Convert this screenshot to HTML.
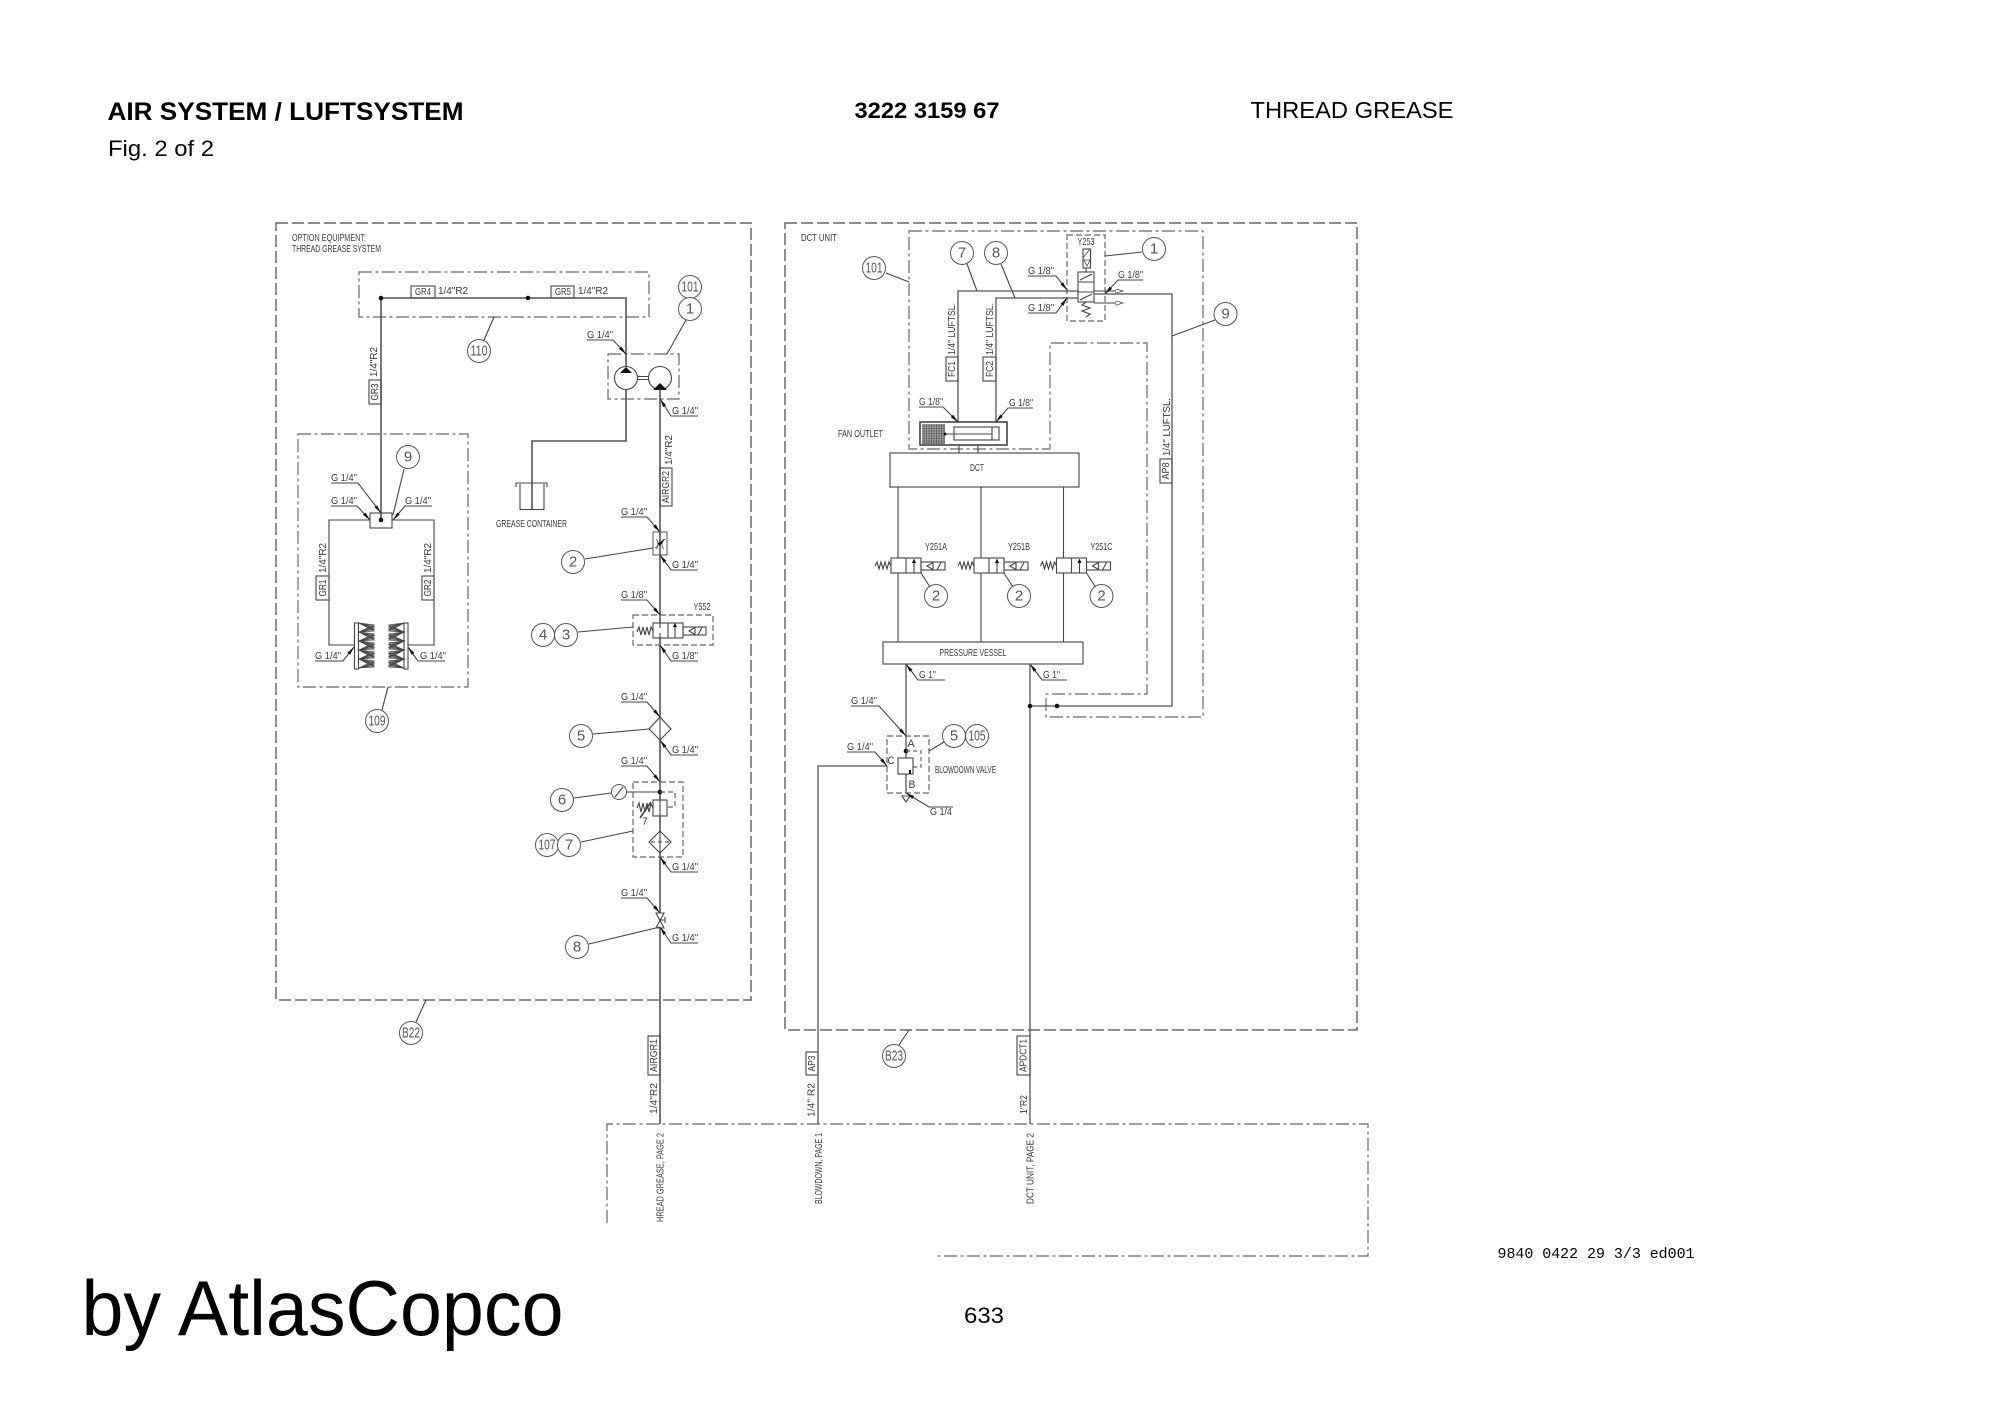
<!DOCTYPE html>
<html>
<head>
<meta charset="utf-8">
<title>Air System</title>
<style>
html,body{margin:0;padding:0;background:#fff;width:2000px;height:1415px;overflow:hidden}
svg{display:block;position:absolute;left:0;top:0}
.l{fill:none;stroke:#444;stroke-width:1.1}
.m{fill:none;stroke:#555;stroke-width:1.6}
.w{fill:#fff;stroke:#444;stroke-width:1.1}
.b{fill:none;stroke:#666;stroke-width:1.5;stroke-dasharray:12 4}
.dd{fill:none;stroke:#666;stroke-width:1.2;stroke-dasharray:13 3.5 3 3.5}
.ds{fill:none;stroke:#666;stroke-width:1.2;stroke-dasharray:6 3}
.f{fill:#111;stroke:none}
.c{fill:#fff;stroke:#555;stroke-width:1}
text{font-family:"Liberation Sans",sans-serif;fill:#3a3a3a;dominant-baseline:central}
.t{font-size:10.5px}
.n{font-size:15px;text-anchor:middle;fill:#555}
.h{font-size:25px;fill:#000;dominant-baseline:auto}
</style>
</head>
<body>
<svg width="2000" height="1415" viewBox="0 0 2000 1415" xmlns="http://www.w3.org/2000/svg">
<defs>
<marker id="a" viewBox="0 0 10 4" refX="10" refY="2" markerUnits="userSpaceOnUse" markerWidth="9" markerHeight="3.4" orient="auto"><path d="M0 0L10 2L0 4z" fill="#111"/></marker>
<marker id="o" viewBox="0 0 10 6" refX="10" refY="3" markerUnits="userSpaceOnUse" markerWidth="8" markerHeight="4.5" orient="auto"><path d="M0 0L10 3L0 6z" fill="#fff" stroke="#444"/></marker>
</defs>
<rect width="2000" height="1415" fill="#fff"/>

<!-- header -->
<text class="h" x="107.5" y="120" font-weight="bold" textLength="356" lengthAdjust="spacingAndGlyphs">AIR SYSTEM / LUFTSYSTEM</text>
<text class="h" x="854.5" y="118" font-weight="bold" style="font-size:22px" textLength="145" lengthAdjust="spacingAndGlyphs">3222 3159 67</text>
<text class="h" x="1250.5" y="118" style="font-size:23px" textLength="203" lengthAdjust="spacingAndGlyphs">THREAD GREASE</text>
<text class="h" x="108" y="156" style="font-size:22px" textLength="106" lengthAdjust="spacingAndGlyphs">Fig. 2 of 2</text>

<!-- footer -->
<text class="h" x="81.5" y="1335" style="font-size:78px" textLength="482" lengthAdjust="spacingAndGlyphs">by AtlasCopco</text>
<text class="h" x="964" y="1323" style="font-size:22px" textLength="40" lengthAdjust="spacingAndGlyphs">633</text>
<text class="h" x="1497.5" y="1258" style="font-family:'Liberation Mono',monospace;font-size:14.5px" textLength="197" lengthAdjust="spacingAndGlyphs">9840 0422 29 3/3 ed001</text>

<!-- outer boxes -->
<rect class="b" x="276" y="223" width="475" height="777"/>
<rect class="b" x="785" y="223" width="572" height="807"/>
<text class="t" x="292" y="238" textLength="74" lengthAdjust="spacingAndGlyphs">OPTION EQUIPMENT:</text>
<text class="t" x="292" y="249" textLength="89" lengthAdjust="spacingAndGlyphs">THREAD GREASE SYSTEM</text>
<text class="t" x="801" y="238" textLength="36" lengthAdjust="spacingAndGlyphs">DCT UNIT</text>

<!-- bottom box -->
<path class="dd" d="M607 1223V1124H1368V1256H936"/>

<!-- ===== LEFT SYSTEM ===== -->
<rect class="dd" x="359" y="272" width="290" height="45"/>
<path class="m" d="M381 298H626V367M626 390V441H532V509M381 298V520"/>
<circle class="f" cx="381" cy="298" r="2.3"/>
<circle class="f" cx="528" cy="298" r="2.3"/>
<rect class="l" x="411" y="286" width="24" height="12"/>
<rect class="l" x="551" y="286" width="23" height="12"/>
<text class="t" x="415" y="292" textLength="16" lengthAdjust="spacingAndGlyphs">GR4</text>
<text class="t" x="555" y="292" textLength="16" lengthAdjust="spacingAndGlyphs">GR5</text>
<text class="t" x="438" y="291" textLength="30" lengthAdjust="spacingAndGlyphs">1/4"R2</text>
<text class="t" x="578" y="291" textLength="30" lengthAdjust="spacingAndGlyphs">1/4"R2</text>
<path class="l" d="M494 317L484 340"/>
<circle class="c" cx="479" cy="351" r="11.5"/>
<text class="n" x="479" y="351" textLength="17" lengthAdjust="spacingAndGlyphs">110</text>

<!-- GR3 -->
<rect class="l" x="369" y="380" width="12" height="24"/>
<text class="t" transform="translate(375,392) rotate(-90)" text-anchor="middle" textLength="17" lengthAdjust="spacingAndGlyphs">GR3</text>
<text class="t" transform="translate(374,362) rotate(-90)" text-anchor="middle" textLength="30" lengthAdjust="spacingAndGlyphs">1/4"R2</text>

<!-- pump -->
<rect class="dd" x="608" y="354" width="71" height="45"/>
<circle class="l" cx="626" cy="378" r="11.5"/>
<circle class="l" cx="660" cy="378" r="11.5"/>
<path class="l" d="M637.5 376.5H648.5M637.5 379.5H648.5"/>
<path class="f" d="M626 367L632 373H620z"/>
<path class="f" d="M660 383L667 390H653z"/>
<circle class="c" cx="690" cy="287" r="11.5"/>
<text class="n" x="690" y="287" textLength="17" lengthAdjust="spacingAndGlyphs">101</text>
<circle class="c" cx="690" cy="309" r="11.5"/>
<text class="n" x="690" y="309">1</text>
<path class="l" d="M686 320L667 354"/>

<!-- grease container -->
<path class="l" d="M520 484V509.5H544V484M516 487V483H547V487"/>
<text class="t" x="496" y="524" textLength="71" lengthAdjust="spacingAndGlyphs">GREASE CONTAINER</text>

<!-- box 109 -->
<rect class="dd" x="298" y="434" width="170" height="253"/>
<path class="l" d="M388 687L382 710"/>
<circle class="c" cx="377" cy="721" r="11.5"/>
<text class="n" x="377" y="721" textLength="17" lengthAdjust="spacingAndGlyphs">109</text>
<circle class="c" cx="408" cy="457" r="11.5"/>
<text class="n" x="408" y="457">9</text>
<path class="l" d="M404 469L393 515"/>
<rect class="l" x="370" y="513" width="22" height="15"/>
<circle class="f" cx="381" cy="520" r="2.3"/>
<path class="l" d="M370 520H329V645H355M392 520H434V645H408"/>
<rect class="l" x="354.500" y="623" width="4" height="46"/>
<rect class="l" x="404" y="623" width="4" height="46"/>
<g stroke="#444" stroke-width=".8" fill="none">
<path d="M359 623L374 625L359 632L374 634L359 641L374 643L359 650L374 652L359 659L374 661L359 668"/>
<path d="M359 623L374 626.500L359 632L374 635.500L359 641L374 644.500L359 650L374 653.500L359 659L374 662.500L359 668"/>
<path d="M359 623L374 628L359 632L374 637L359 641L374 646L359 650L374 655L359 659L374 664L359 668"/>
<path d="M359 623L374 629.500L359 632L374 638.500L359 641L374 647.500L359 650L374 656.500L359 659L374 665.500L359 668"/>
<path d="M359 623L374 631L359 632L374 640L359 641L374 649L359 650L374 658L359 659L374 667L359 668"/>
<path d="M404 623L389 625L404 632L389 634L404 641L389 643L404 650L389 652L404 659L389 661L404 668"/>
<path d="M404 623L389 626.500L404 632L389 635.500L404 641L389 644.500L404 650L389 653.500L404 659L389 662.500L404 668"/>
<path d="M404 623L389 628L404 632L389 637L404 641L389 646L404 650L389 655L404 659L389 664L404 668"/>
<path d="M404 623L389 629.500L404 632L389 638.500L404 641L389 647.500L404 650L389 656.500L404 659L389 665.500L404 668"/>
<path d="M404 623L389 631L404 632L389 640L404 641L389 649L404 650L389 658L404 659L389 667L404 668"/>
</g>
<rect class="l" x="316" y="576" width="13" height="24"/>
<rect class="l" x="422" y="576" width="12" height="24"/>
<text class="t" transform="translate(323,588) rotate(-90)" text-anchor="middle" textLength="17" lengthAdjust="spacingAndGlyphs">GR1</text>
<text class="t" transform="translate(428,588) rotate(-90)" text-anchor="middle" textLength="17" lengthAdjust="spacingAndGlyphs">GR2</text>
<text class="t" transform="translate(323,558) rotate(-90)" text-anchor="middle" textLength="30" lengthAdjust="spacingAndGlyphs">1/4"R2</text>
<text class="t" transform="translate(428,558) rotate(-90)" text-anchor="middle" textLength="30" lengthAdjust="spacingAndGlyphs">1/4"R2</text>

<!-- main air line -->
<path class="m" d="M660 389V1124"/>
<rect class="l" x="660" y="468" width="12" height="38"/>
<text class="t" transform="translate(666,487) rotate(-90)" text-anchor="middle" textLength="32" lengthAdjust="spacingAndGlyphs">AIRGR2</text>
<text class="t" transform="translate(669,450) rotate(-90)" text-anchor="middle" textLength="30" lengthAdjust="spacingAndGlyphs">1/4"R2</text>

<!-- restrictor 2 -->
<rect class="l" x="653" y="532" width="14" height="23" style="stroke:#666"/>
<path class="l" style="stroke-width:.8" d="M656.500 539Q659.500 544 656.500 549M663.500 539Q660.500 544 663.500 549"/>
<path class="l" style="stroke-width:.8" d="M655 548L665 539" marker-end="url(#a)"/>
<circle class="c" cx="573" cy="562" r="11.5"/>
<text class="n" x="573" y="562">2</text>
<path class="l" d="M585 559L653 548"/>

<!-- Y552 valve -->
<text class="t" x="702" y="607" text-anchor="middle" textLength="17" lengthAdjust="spacingAndGlyphs">Y552</text>
<rect class="ds" x="633" y="615" width="80" height="30"/>
<rect class="w" x="653" y="623" width="30" height="15"/>
<path class="l" d="M660 623V628M660 633V638M668 623V638M675 638V625" />
<path class="f" d="M675 623L677 627H673z"/>
<path class="l" d="M637 632L639 627L641 635L643 627L645 635L647 627L649 635L651 627L653 631"/>
<rect class="l" x="683" y="627" width="23" height="8"/>
<path class="l" d="M689 631L695 627.5V634.5zM698 635L702 627.5"/>
<circle class="c" cx="543" cy="635" r="11.5"/>
<text class="n" x="543" y="635">4</text>
<circle class="c" cx="566" cy="635" r="11.5"/>
<text class="n" x="566" y="635">3</text>
<path class="l" d="M578 632L633 627"/>

<!-- filter 5 -->
<path class="w" d="M660 717L671 729L660 740L649 729z"/>
<path class="l" d="M660 717V740"/>
<circle class="c" cx="581" cy="736" r="11.5"/>
<text class="n" x="581" y="736">5</text>
<path class="l" d="M593 734L649 729"/>

<!-- regulator -->
<rect class="ds" x="633" y="782" width="50" height="75"/>
<circle class="c" cx="619" cy="792" r="7.5"/>
<path class="l" d="M615 797L623 787"/>
<path class="l" d="M626.500 792H660"/>
<circle class="f" cx="660" cy="792" r="2.3"/>
<path class="ds" style="stroke-dasharray:5 3" d="M660 792H675V807H667"/>
<rect class="w" x="653" y="800" width="14" height="16"/>
<path class="l" d="M660 800V816"/>
<path class="l" d="M637 808L639 803L641 812L643 803L645 812L647 803L649 812L651 804L653 808"/>
<path class="l" d="M640 818L651 802" style="stroke-width:1.6"/>
<text class="t" x="645" y="822" text-anchor="middle" style="font-size:10px">7</text>
<path class="w" d="M660 831L671 842L660 853L649 842z"/>
<path class="ds" style="stroke-dasharray:4 3" d="M651 842H669"/>
<path class="l" d="M660 831V853"/>
<circle class="c" cx="562" cy="800" r="11.5"/>
<text class="n" x="562" y="800">6</text>
<path class="l" d="M574 798L611 793"/>
<circle class="c" cx="547" cy="845" r="11.5"/>
<text class="n" x="547" y="845" textLength="17" lengthAdjust="spacingAndGlyphs">107</text>
<circle class="c" cx="569" cy="845" r="11.5"/>
<text class="n" x="569" y="845">7</text>
<path class="l" d="M581 842L633 831"/>

<!-- ball valve 8 -->
<path class="w" d="M656 913H664L656 928H664z"/>
<path class="l" d="M660 920H665M665 917V923"/>
<circle class="c" cx="577" cy="947" r="11.5"/>
<text class="n" x="577" y="947">8</text>
<path class="l" d="M589 944L660 927"/>

<!-- B22 -->
<path class="l" d="M426 1000L416 1022"/>
<circle class="c" cx="411" cy="1033" r="11.5"/>
<text class="n" x="411" y="1033" textLength="18" lengthAdjust="spacingAndGlyphs">B22</text>

<!-- G labels left -->
<g>
<path class="l" marker-end="url(#a)" d="M587 340H613L626 354"/><text class="t" x="587" y="335" textLength="26" lengthAdjust="spacingAndGlyphs">G 1/4"</text>
<path class="l" marker-end="url(#a)" d="M698 416H671L660 399"/><text class="t" x="672" y="411" textLength="26" lengthAdjust="spacingAndGlyphs">G 1/4"</text>
<path class="l" marker-end="url(#a)" d="M331 483H358L381 513"/><text class="t" x="331" y="478" textLength="26" lengthAdjust="spacingAndGlyphs">G 1/4"</text>
<path class="l" marker-end="url(#a)" d="M331 506H357L370 520"/><text class="t" x="331" y="501" textLength="26" lengthAdjust="spacingAndGlyphs">G 1/4"</text>
<path class="l" marker-end="url(#a)" d="M432 506H405L393 520"/><text class="t" x="405" y="501" textLength="26" lengthAdjust="spacingAndGlyphs">G 1/4"</text>
<path class="l" marker-end="url(#a)" d="M315 661H343L354 647"/><text class="t" x="315" y="656" textLength="26" lengthAdjust="spacingAndGlyphs">G 1/4"</text>
<path class="l" marker-end="url(#a)" d="M445 661H418L408 647"/><text class="t" x="420" y="656" textLength="26" lengthAdjust="spacingAndGlyphs">G 1/4"</text>
<path class="l" marker-end="url(#a)" d="M621 517H647L660 532"/><text class="t" x="621" y="512" textLength="26" lengthAdjust="spacingAndGlyphs">G 1/4"</text>
<path class="l" marker-end="url(#a)" d="M698 570H671L660 555"/><text class="t" x="672" y="565" textLength="26" lengthAdjust="spacingAndGlyphs">G 1/4"</text>
<path class="l" marker-end="url(#a)" d="M621 600H647L660 615"/><text class="t" x="621" y="595" textLength="26" lengthAdjust="spacingAndGlyphs">G 1/8"</text>
<path class="l" marker-end="url(#a)" d="M698 661H671L660 645"/><text class="t" x="672" y="656" textLength="26" lengthAdjust="spacingAndGlyphs">G 1/8"</text>
<path class="l" marker-end="url(#a)" d="M621 702H647L660 717"/><text class="t" x="621" y="697" textLength="26" lengthAdjust="spacingAndGlyphs">G 1/4"</text>
<path class="l" marker-end="url(#a)" d="M698 755H671L660 740"/><text class="t" x="672" y="750" textLength="26" lengthAdjust="spacingAndGlyphs">G 1/4"</text>
<path class="l" marker-end="url(#a)" d="M621 766H647L660 782"/><text class="t" x="621" y="761" textLength="26" lengthAdjust="spacingAndGlyphs">G 1/4"</text>
<path class="l" marker-end="url(#a)" d="M698 872H671L660 857"/><text class="t" x="672" y="867" textLength="26" lengthAdjust="spacingAndGlyphs">G 1/4"</text>
<path class="l" marker-end="url(#a)" d="M621 898H647L660 913"/><text class="t" x="621" y="893" textLength="26" lengthAdjust="spacingAndGlyphs">G 1/4"</text>
<path class="l" marker-end="url(#a)" d="M698 943H671L660 927"/><text class="t" x="672" y="938" textLength="26" lengthAdjust="spacingAndGlyphs">G 1/4"</text>
</g>

<!-- AIRGR1 etc -->
<rect class="l" x="648" y="1036" width="12" height="39"/>
<text class="t" transform="translate(654,1055.500) rotate(-90)" text-anchor="middle" textLength="33" lengthAdjust="spacingAndGlyphs">AIRGR1</text>
<text class="t" transform="translate(654,1098.500) rotate(-90)" text-anchor="middle" textLength="31" lengthAdjust="spacingAndGlyphs">1/4"R2</text>
<text class="t" transform="translate(660.500,1177.500) rotate(-90)" text-anchor="middle" textLength="89" lengthAdjust="spacingAndGlyphs">HREAD GREASE, PAGE 2</text>

<!-- ===== RIGHT SYSTEM ===== -->
<path class="dd" d="M909 231H1203V717H1046V694H1147V343H1050V449H909z"/>
<circle class="c" cx="874" cy="268" r="11.5"/>
<text class="n" x="874" y="268" textLength="17" lengthAdjust="spacingAndGlyphs">101</text>
<path class="l" d="M886 273L909 282"/>
<circle class="c" cx="962" cy="253" r="11.5"/>
<text class="n" x="962" y="253">7</text>
<circle class="c" cx="996" cy="253" r="11.5"/>
<text class="n" x="996" y="253">8</text>
<path class="l" d="M967 264L977 291M1001 264L1015 298"/>

<!-- Y253 -->
<rect class="ds" x="1067" y="235" width="38" height="86"/>
<text class="t" x="1086" y="242" text-anchor="middle" textLength="17" lengthAdjust="spacingAndGlyphs">Y253</text>
<path class="m" style="stroke-width:1.3" d="M958 422V291H1078M996 422V298H1078M1094 294H1172V706H1030"/>
<path class="l" marker-end="url(#o)" d="M1094 291H1123"/>
<path class="l" marker-end="url(#o)" d="M1094 303H1123"/>
<rect class="w" x="1078" y="272" width="16" height="30"/>
<path class="l" d="M1078 282H1094M1078 292H1094M1080 280L1092 274M1080 300L1092 294"/>
<rect class="l" x="1083" y="249" width="7.500" height="19"/>
<path class="l" style="stroke-width:.8" d="M1083 258L1090 249M1084 260H1090L1087 266z"/>
<path class="l" d="M1086 268V272"/>
<path class="l" d="M1086 302L1082 305L1090 308L1082 311L1090 314L1086 317"/>
<circle class="c" cx="1154" cy="249" r="11.5"/>
<text class="n" x="1154" y="249">1</text>
<path class="l" d="M1105 256L1142 252"/>

<path class="l" marker-end="url(#a)" d="M1028 276H1056L1067 290"/><text class="t" x="1028" y="271" textLength="26" lengthAdjust="spacingAndGlyphs">G 1/8"</text>
<path class="l" marker-end="url(#a)" d="M1028 313H1056L1067 298"/><text class="t" x="1028" y="308" textLength="26" lengthAdjust="spacingAndGlyphs">G 1/8"</text>
<path class="l" marker-end="url(#a)" d="M1143 280H1118L1105 294"/><text class="t" x="1118" y="275" textLength="25" lengthAdjust="spacingAndGlyphs">G 1/8"</text>

<!-- FC1/FC2 -->
<rect class="l" x="946" y="357" width="12" height="24"/>
<rect class="l" x="983" y="357" width="13" height="24"/>
<text class="t" transform="translate(952,369) rotate(-90)" text-anchor="middle" textLength="16" lengthAdjust="spacingAndGlyphs">FC1</text>
<text class="t" transform="translate(990,369) rotate(-90)" text-anchor="middle" textLength="16" lengthAdjust="spacingAndGlyphs">FC2</text>
<text class="t" transform="translate(952,329) rotate(-90)" text-anchor="middle" textLength="52" lengthAdjust="spacingAndGlyphs">1/4" LUFTSL.</text>
<text class="t" transform="translate(990,329) rotate(-90)" text-anchor="middle" textLength="52" lengthAdjust="spacingAndGlyphs">1/4" LUFTSL.</text>

<!-- fan cylinder -->
<rect class="l" x="920" y="422" width="87" height="23" style="stroke-width:1.6"/>
<rect x="922" y="424" width="23" height="20" fill="#aaa"/>
<path stroke="#444" stroke-width=".6" fill="none" d="M924 424V444M926.500 424V444M929 424V444M931.500 424V444M934 424V444M936.500 424V444M939 424V444M941.500 424V444M944 424V444M922 426H945M922 428.500H945M922 431H945M922 433.500H945M922 436H945M922 438.500H945M922 441H945M922 443H945"/>
<rect class="l" x="954" y="427" width="45" height="13"/>
<path class="l" d="M992 427V440M945 434H992"/>
<circle class="f" cx="945" cy="434" r="1.5"/>
<path class="l" marker-end="url(#a)" d="M919 407H943L958 422"/><text class="t" x="919" y="402" textLength="24" lengthAdjust="spacingAndGlyphs">G 1/8"</text>
<path class="l" marker-end="url(#a)" d="M1033 408H1008L996 422"/><text class="t" x="1009" y="403" textLength="24" lengthAdjust="spacingAndGlyphs">G 1/8"</text>
<text class="t" x="838" y="434" textLength="45" lengthAdjust="spacingAndGlyphs">FAN OUTLET</text>
<path class="l" d="M959 445V453M978 445V453"/>

<!-- DCT -->
<rect class="l" x="890" y="453" width="189" height="34"/>
<text class="t" x="977" y="468" text-anchor="middle" textLength="14" lengthAdjust="spacingAndGlyphs">DCT</text>
<path class="l" d="M898 487V642M981 487V642M1063.500 487V642"/>

<!-- Y251 valves -->
<g>
<rect class="w" x="891" y="558" width="30" height="15"/>
<path class="l" d="M906 558V573M914 573V561"/><path class="f" d="M914 558.500L916 563H912z"/>
<path class="l" d="M875 566L877 562L879 569L881 562L883 569L885 562L887 569L889 562L891 566"/>
<rect class="l" x="921" y="562" width="24" height="8"/>
<path class="l" d="M927 566L933 562.500V569.500zM937 570L941 562.500"/>
<text class="t" x="936" y="547" text-anchor="middle" textLength="22" lengthAdjust="spacingAndGlyphs">Y251A</text>
<circle class="c" cx="936" cy="596" r="11.500"/><text class="n" x="936" y="596">2</text>
<path class="l" d="M921 573L930 587"/>
</g>
<g transform="translate(83,0)">
<rect class="w" x="891" y="558" width="30" height="15"/>
<path class="l" d="M906 558V573M914 573V561"/><path class="f" d="M914 558.500L916 563H912z"/>
<path class="l" d="M875 566L877 562L879 569L881 562L883 569L885 562L887 569L889 562L891 566"/>
<rect class="l" x="921" y="562" width="24" height="8"/>
<path class="l" d="M927 566L933 562.500V569.500zM937 570L941 562.500"/>
<text class="t" x="936" y="547" text-anchor="middle" textLength="22" lengthAdjust="spacingAndGlyphs">Y251B</text>
<circle class="c" cx="936" cy="596" r="11.500"/><text class="n" x="936" y="596">2</text>
<path class="l" d="M921 573L930 587"/>
</g>
<g transform="translate(165.500,0)">
<rect class="w" x="891" y="558" width="30" height="15"/>
<path class="l" d="M906 558V573M914 573V561"/><path class="f" d="M914 558.500L916 563H912z"/>
<path class="l" d="M875 566L877 562L879 569L881 562L883 569L885 562L887 569L889 562L891 566"/>
<rect class="l" x="921" y="562" width="24" height="8"/>
<path class="l" d="M927 566L933 562.500V569.500zM937 570L941 562.500"/>
<text class="t" x="936" y="547" text-anchor="middle" textLength="22" lengthAdjust="spacingAndGlyphs">Y251C</text>
<circle class="c" cx="936" cy="596" r="11.500"/><text class="n" x="936" y="596">2</text>
<path class="l" d="M921 573L930 587"/>
</g>

<!-- vessel -->
<rect class="l" x="883" y="642" width="200" height="22"/>
<text class="t" x="973" y="653" text-anchor="middle" textLength="67" lengthAdjust="spacingAndGlyphs">PRESSURE VESSEL</text>
<path class="l" marker-end="url(#a)" d="M945 680H918L906 664"/><text class="t" x="919" y="675" textLength="17" lengthAdjust="spacingAndGlyphs">G 1"</text>
<path class="l" marker-end="url(#a)" d="M1067 680H1042L1030 664"/><text class="t" x="1043" y="675" textLength="17" lengthAdjust="spacingAndGlyphs">G 1"</text>

<!-- lines to bottom -->
<path class="m" style="stroke-width:1.3" d="M906 664V793"/>
<path class="m" style="stroke-width:1.3" d="M1030 664V1124"/>
<path class="m" style="stroke-width:1.3" d="M887 766H818V1124"/>
<circle class="f" cx="1030" cy="706" r="2.300"/>
<circle class="f" cx="1057" cy="706" r="2.300"/>

<!-- blowdown valve -->
<rect class="ds" x="887" y="736" width="42" height="57"/>
<circle class="f" cx="906" cy="751" r="2.300"/>
<path class="ds" style="stroke-dasharray:4 3" d="M906 751H921V767H913"/>
<rect class="w" x="898" y="758" width="15" height="16"/>
<path class="f" d="M909 770h2v4h-2z"/>
<text x="911" y="744" text-anchor="middle" style="font-size:11px" textLength="7" lengthAdjust="spacingAndGlyphs">A</text>
<text x="891" y="761" text-anchor="middle" style="font-size:11px" textLength="7" lengthAdjust="spacingAndGlyphs">C</text>
<text x="912" y="785" text-anchor="middle" style="font-size:11px" textLength="7" lengthAdjust="spacingAndGlyphs">B</text>
<path class="l" d="M902 796H910L906 802z"/>
<text class="t" x="935" y="770" textLength="61" lengthAdjust="spacingAndGlyphs">BLOWDOWN VALVE</text>
<circle class="c" cx="954" cy="736" r="11.500"/><text class="n" x="954" y="736">5</text>
<circle class="c" cx="977" cy="736" r="11.500"/><text class="n" x="977" y="736" textLength="17" lengthAdjust="spacingAndGlyphs">105</text>
<path class="l" d="M929 751L944 742"/>
<path class="l" marker-end="url(#a)" d="M851 706H879L906 736"/><text class="t" x="851" y="701" textLength="26" lengthAdjust="spacingAndGlyphs">G 1/4"</text>
<path class="l" marker-end="url(#a)" d="M847 752H875L887 766"/><text class="t" x="847" y="747" textLength="26" lengthAdjust="spacingAndGlyphs">G 1/4"</text>
<path class="l" marker-end="url(#a)" d="M953 807H929L906 793"/><text class="t" x="930" y="812" textLength="22" lengthAdjust="spacingAndGlyphs">G 1/4</text>

<!-- AP8 and leader 9 -->
<rect class="l" x="1160" y="459" width="12" height="24"/>
<text class="t" transform="translate(1166,471) rotate(-90)" text-anchor="middle" textLength="17" lengthAdjust="spacingAndGlyphs">AP8</text>
<text class="t" transform="translate(1167,427) rotate(-90)" text-anchor="middle" textLength="58" lengthAdjust="spacingAndGlyphs">1/4" LUFTSL.</text>
<circle class="c" cx="1225.500" cy="314" r="11.500"/><text class="n" x="1225.500" y="314">9</text>
<path class="l" d="M1172 336L1215 320"/>

<!-- B23 -->
<path class="l" d="M909 1030L899 1045"/>
<circle class="c" cx="894" cy="1056" r="11.500"/>
<text class="n" x="894" y="1056" textLength="18" lengthAdjust="spacingAndGlyphs">B23</text>

<!-- AP3 / APDCT1 -->
<rect class="l" x="806" y="1052" width="12" height="23"/>
<text class="t" transform="translate(812,1063.500) rotate(-90)" text-anchor="middle" textLength="16" lengthAdjust="spacingAndGlyphs">AP3</text>
<text class="t" transform="translate(811.500,1100) rotate(-90)" text-anchor="middle" textLength="34" lengthAdjust="spacingAndGlyphs">1/4" R2</text>
<text class="t" transform="translate(819,1168.500) rotate(-90)" text-anchor="middle" textLength="71" lengthAdjust="spacingAndGlyphs">BLOWDOWN, PAGE 1</text>
<rect class="l" x="1017" y="1036" width="13" height="39"/>
<text class="t" transform="translate(1023.500,1055.500) rotate(-90)" text-anchor="middle" textLength="33" lengthAdjust="spacingAndGlyphs">APDCT1</text>
<text class="t" transform="translate(1024,1104.500) rotate(-90)" text-anchor="middle" textLength="19" lengthAdjust="spacingAndGlyphs">1"R2</text>
<text class="t" transform="translate(1030.500,1168.500) rotate(-90)" text-anchor="middle" textLength="71" lengthAdjust="spacingAndGlyphs">DCT UNIT, PAGE 2</text>
</svg>
</body>
</html>
